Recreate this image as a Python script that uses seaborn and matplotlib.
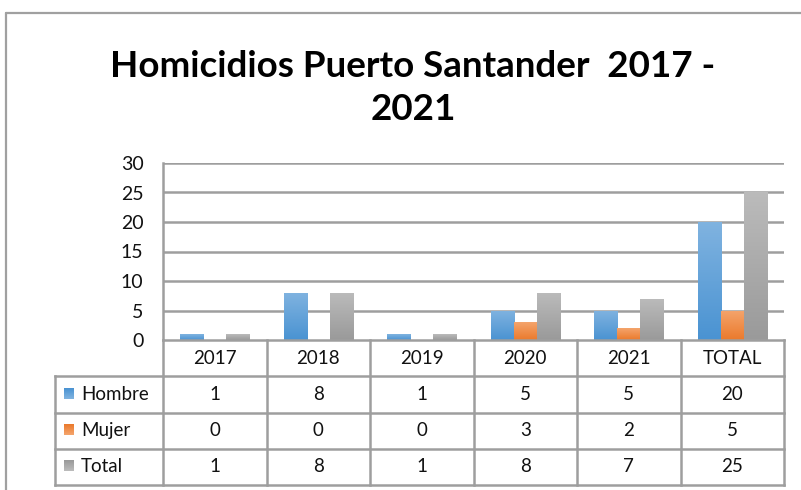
"""
Homicidios Puerto Santander 2017 - 2021, grouped bars with a data table underneath
"""
import numpy as np
import pandas as pd
import matplotlib
matplotlib.use("Agg")
import matplotlib.pyplot as plt
from matplotlib.lines import Line2D
from matplotlib.colors import LinearSegmentedColormap
import seaborn as sns

# data
categories = ["2017", "2018", "2019", "2020", "2021", "TOTAL"]
hombre = [1, 8, 1, 5, 5, 20]
mujer = [0, 0, 0, 3, 2, 5]
total = [1, 8, 1, 8, 7, 25]
series_names = ["Hombre", "Mujer", "Total"]
y_ticks = [0, 5, 10, 15, 20, 25, 30]
title = "Homicidios Puerto Santander  2017 -\n2021"

# colours (top of gradient, bottom of gradient, flat)
palette = {"Hombre": "#5B9BD5", "Mujer": "#ED7D31", "Total": "#A5A5A5"}
gradients = {
    "Hombre": ("#80B3E0", "#4A93D2"),
    "Mujer": ("#F4A46C", "#EB7A2C"),
    "Total": ("#BBBBBB", "#9A9A9A"),
}
LINE = "#9E9E9E"
FONT = "Lato"
TXT = 13.5

W, H = 801, 490


def fig_box(x0, y0, x1, y1):
    """pixel box (top-left origin) -> figure fraction [left, bottom, width, height]"""
    return [x0 / W, 1 - y1 / H, (x1 - x0) / W, (y1 - y0) / H]


def build_frame():
    rows = []
    for name, vals in zip(series_names, [hombre, mujer, total]):
        for cat, v in zip(categories, vals):
            rows.append({"Año": cat, "Serie": name, "Valor": v})
    return pd.DataFrame(rows)


def add_gradients(ax, df):
    # seaborn adds patches hue by hue, in category order
    bars = [p for p in ax.patches if p.get_width() > 0][: len(df)]
    order = [(s, c) for s in series_names for c in categories]
    for patch, (s, c) in zip(bars, order):
        h = patch.get_height()
        if h <= 0:
            patch.set_visible(False)
            continue
        top, bottom = gradients[s]
        cmap = LinearSegmentedColormap.from_list(s, [bottom, top])
        x = patch.get_x()
        w = patch.get_width()
        grad = np.linspace(0, 1, 64).reshape(-1, 1)
        im = ax.imshow(grad, cmap=cmap, origin="lower", aspect="auto",
                       extent=(x, x + w, 0, h), zorder=3)
        im.set_clip_path(patch)
        patch.set_facecolor("none")
        patch.set_edgecolor("none")


def draw_table(fig, ax):
    # table sits under the plot; x units match the category axis
    px_per_cat = (784 - 163) / len(categories)
    left_units = (163 - 55) / px_per_cat
    tax = fig.add_axes(fig_box(55, 340, 784, 485))
    xl = -0.5 - left_units
    xr = len(categories) - 0.5
    tax.axis("off")

    kw = dict(color=LINE, lw=1.8, solid_capstyle="projecting", clip_on=False)
    # vertical lines between categories
    for i in range(len(categories) + 1):
        tax.plot([i - 0.5, i - 0.5], [0, 4], **kw)
    tax.plot([xl, xl], [1, 4], **kw)
    tax.plot([-0.5, xr], [0, 0], **kw)
    for r in range(1, 5):
        tax.plot([xl, xr], [r, r], **kw)

    for i, cat in enumerate(categories):
        tax.text(i, 0.5, cat, ha="center", va="center", fontsize=TXT,
                 family=FONT, color="#111111")
    for r, (name, vals) in enumerate(zip(series_names, [hombre, mujer, total]), start=1):
        for i, v in enumerate(vals):
            tax.text(i, r + 0.5, str(v), ha="center", va="center", fontsize=TXT,
                     family=FONT, color="#111111")
        # legend key + label
        top, bottom = gradients[name]
        kx = xl + 9 / px_per_cat
        kw_units = 10 / px_per_cat
        cmap = LinearSegmentedColormap.from_list(name, [bottom, top])
        tax.imshow(np.linspace(0, 1, 16).reshape(-1, 1), cmap=cmap, origin="upper",
                   aspect="auto", extent=(kx, kx + kw_units, r + 0.62, r + 0.32),
                   zorder=3)
        tax.text(kx + 17 / px_per_cat, r + 0.5, name, ha="left", va="center",
                 fontsize=TXT, family=FONT, color="#111111")
    tax.set_xlim(xl, xr)
    tax.set_ylim(4, 0)


def main():
    sns.set_theme(style="white")
    df = build_frame()

    fig = plt.figure(figsize=(W / 100, H / 100), dpi=100)
    ax = fig.add_axes(fig_box(163, 163, 784, 340))

    sns.barplot(data=df, x="Año", y="Valor", hue="Serie", order=categories,
                hue_order=series_names, palette=palette, width=0.67,
                errorbar=None, legend=False, ax=ax, zorder=3)
    add_gradients(ax, df)

    ax.set_xlim(-0.5, len(categories) - 0.5)
    ax.set_ylim(0, 30)
    ax.set_yticks(y_ticks)
    ax.set_yticklabels([str(t) for t in y_ticks], fontsize=14, family=FONT,
                       color="#111111")
    ax.tick_params(axis="y", length=0, pad=14)
    ax.set_xticks([])
    ax.set_xlabel("")
    ax.set_ylabel("")
    for t in y_ticks[1:]:
        ax.axhline(t, color=LINE, lw=1.8, zorder=1)
    for side in ["top", "right", "bottom"]:
        ax.spines[side].set_visible(False)
    ax.spines["left"].set_color(LINE)
    ax.spines["left"].set_linewidth(1.8)

    draw_table(fig, ax)

    # title
    fig.text(413 / W, 1 - 88 / H, title, ha="center", va="center",
             fontsize=26.5, fontweight="bold", family=FONT, color="#000000",
             linespacing=1.36)

    # outer chart frame (top and left edges visible)
    fig.add_artist(Line2D([6 / W, 1], [1 - 13 / H, 1 - 13 / H], color="#A0A0A0", lw=1.6))
    fig.add_artist(Line2D([6 / W, 6 / W], [0, 1 - 13 / H], color="#A0A0A0", lw=1.6))

    fig.savefig("out.png", dpi=100, facecolor="white")


if __name__ == "__main__":
    main()
